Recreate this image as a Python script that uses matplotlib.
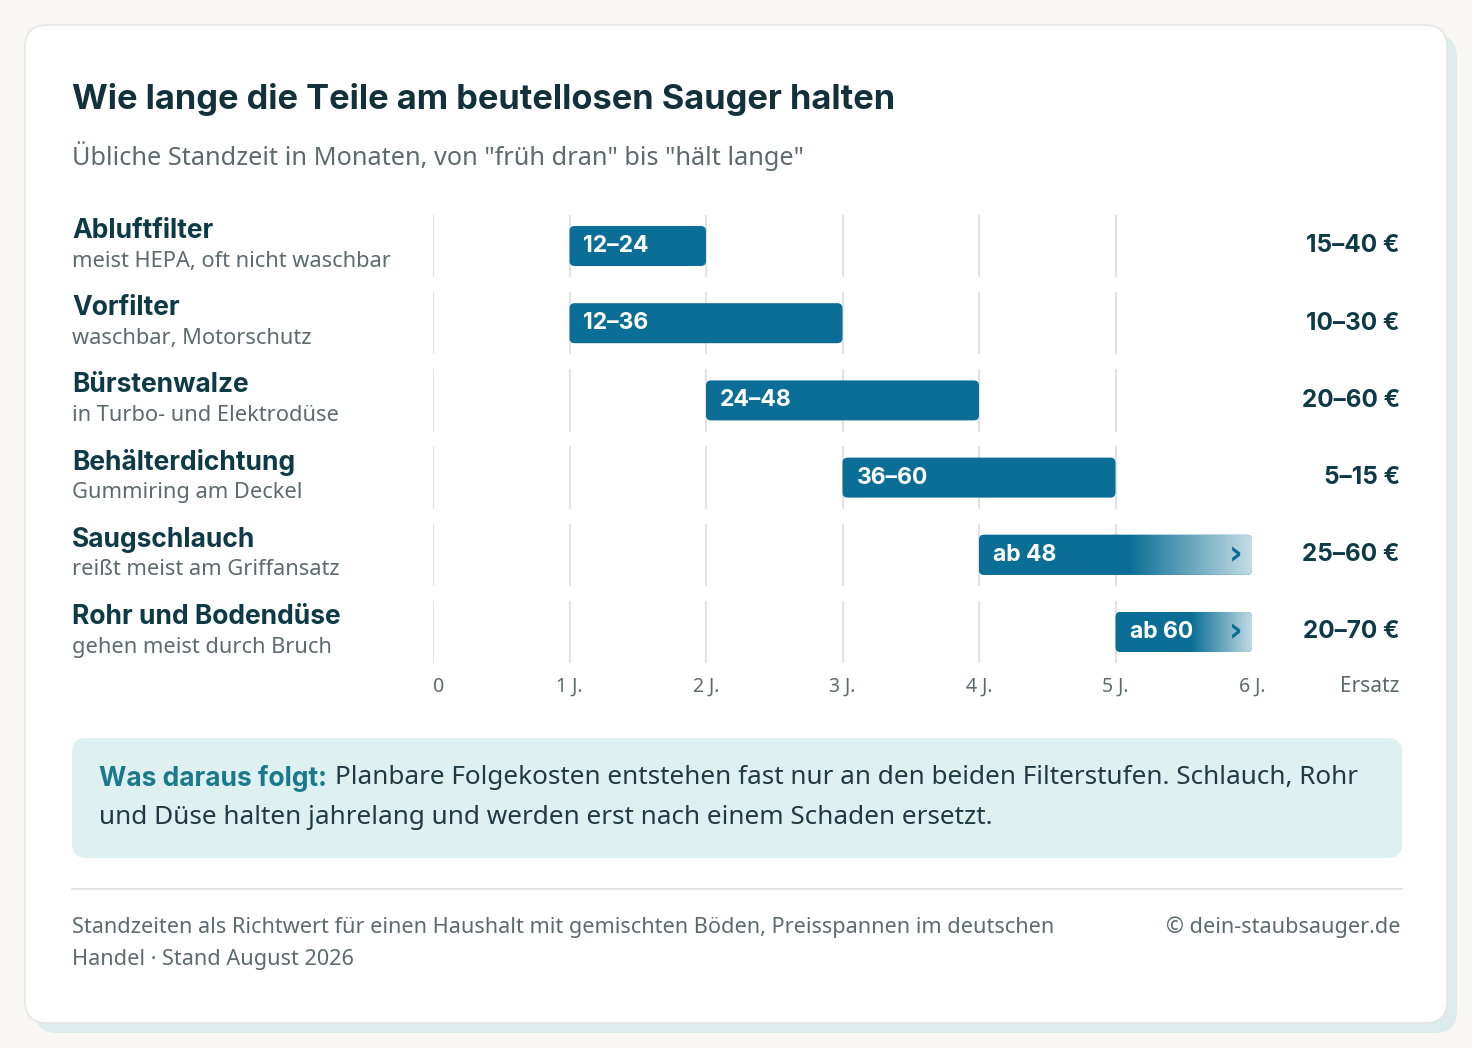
import matplotlib
matplotlib.use("Agg")
import matplotlib.pyplot as plt
import numpy as np
from matplotlib.patches import FancyBboxPatch
from matplotlib.colors import LinearSegmentedColormap

parts = ["Abluftfilter", "Vorfilter", "Bürstenwalze", "Behälterdichtung", "Saugschlauch", "Rohr und Bodendüse"]
notes = ["meist HEPA, oft nicht waschbar", "waschbar, Motorschutz", "in Turbo- und Elektrodüse",
         "Gummiring am Deckel", "reißt meist am Griffansatz", "gehen meist durch Bruch"]
start_m = [12, 12, 24, 36, 48, 60]
end_m = [24, 36, 48, 60, None, None]   # None = open-ended
bar_labels = ["12–24", "12–36", "24–48", "36–60", "ab 48", "ab 60"]
prices = ["15–40 €", "10–30 €", "20–60 €", "5–15 €", "25–60 €", "20–70 €"]
tick_m = [0, 12, 24, 36, 48, 60, 72]
tick_labels = ["0", "1 J.", "2 J.", "3 J.", "4 J.", "5 J.", "6 J."]
xmax = 72

W, H = 1472, 1048
BG = "#f8f7f3"; BAR = "#0b6e96"; DARK = "#12313b"; LABEL = "#0e3a48"; GREY = "#5d6a6e"
FONT_B = "Inter"; FONT = "Noto Sans"

fig = plt.figure(figsize=(W/100, H/100), dpi=100, facecolor=BG)
bg = fig.add_axes([0, 0, 1, 1]); bg.set_xlim(0, W); bg.set_ylim(H, 0); bg.axis("off")
bg.add_patch(FancyBboxPatch((35, 35), 1422, 998, boxstyle="round,pad=0,rounding_size=22",
                            fc="#dcecec", ec="none"))
bg.add_patch(FancyBboxPatch((25, 25), 1422, 998, boxstyle="round,pad=0,rounding_size=22",
                            fc="white", ec="#e6e6e2", lw=1.2))
bg.text(72, 100, "Wie lange die Teile am beutellosen Sauger halten", fontsize=24.8, fontweight="bold",
        family=FONT_B, color=DARK, va="center")
bg.text(72, 156, 'Übliche Standzeit in Monaten, von "früh dran" bis "hält lange"', fontsize=18.2,
        family=FONT, color=GREY, va="center")

y0, dy = 246, 77.2
for i in range(len(parts)):
    yc = y0 + i*dy
    bg.text(72, yc - 15, parts[i], fontsize=19, fontweight="bold", family=FONT_B, color=LABEL, va="center")
    bg.text(72, yc + 15, notes[i], fontsize=15.7, family=FONT, color=GREY, va="center")
    bg.text(1400, yc, prices[i], fontsize=17.5, fontweight="bold", family=FONT_B, color=LABEL,
            va="center", ha="right")
bg.text(1400, 686, "Ersatz", fontsize=15, family=FONT, color=GREY, va="center", ha="right")

# callout
bg.add_patch(FancyBboxPatch((72, 738), 1330, 120, boxstyle="round,pad=0,rounding_size=14",
                            fc="#dff0f0", ec="none"))
t1 = bg.text(99, 778, "Was daraus folgt:", fontsize=19, fontweight="bold", family=FONT_B,
             color="#1a7a8c", va="center")
fig.canvas.draw()
bb = t1.get_window_extent()
bg.text(99 + bb.width + 8, 778, "Planbare Folgekosten entstehen fast nur an den beiden Filterstufen. Schlauch, Rohr",
        fontsize=18.8, family=FONT, color="#1f3a42", va="center")
bg.text(99, 818, "und Düse halten jahrelang und werden erst nach einem Schaden ersetzt.",
        fontsize=18.8, family=FONT, color="#1f3a42", va="center")
bg.plot([72, 1402], [889, 889], color="#dddddd", lw=1.2)
bg.text(72, 927, "Standzeiten als Richtwert für einen Haushalt mit gemischten Böden, Preisspannen im deutschen",
        fontsize=15.6, family=FONT, color=GREY, va="center")
bg.text(72, 959, "Handel · Stand August 2026", fontsize=15.6, family=FONT, color=GREY, va="center")
bg.text(1400, 927, "© dein-staubsauger.de", fontsize=15.6, family=FONT, color=GREY, va="center", ha="right")

# chart axes
x_l, x_r = 433, 1252
top, bot = y0 - dy/2, y0 + 5.5*dy
ax = fig.add_axes([x_l/W, 1 - bot/H, (x_r - x_l)/W, (bot - top)/H])
ax.set_xlim(0, xmax); ax.set_ylim(len(parts) - 0.5, -0.5); ax.axis("off")
for i in range(len(parts)):
    for t in tick_m[:-1]:
        ax.plot([t, t], [i - 0.39, i + 0.39], color="#e2e2e2", lw=1.5, zorder=0)
px_x = xmax / (x_r - x_l); px_y = 1 / dy
asp = px_y / px_x
bh = 40 * px_y
cmap = LinearSegmentedColormap.from_list("fade", [(0, BAR), (0.55, BAR), (1, "#c4dde5")])
for i in range(len(parts)):
    s = start_m[i]; e = end_m[i] if end_m[i] is not None else xmax
    patch = FancyBboxPatch((s, i - bh/2), e - s, bh, boxstyle="round,pad=0,rounding_size=0.45",
                           mutation_aspect=asp, fc=BAR, ec="none", zorder=2)
    ax.add_patch(patch)
    if end_m[i] is None:
        grad = np.linspace(0, 1, 256)[None, :]
        im = ax.imshow(grad, cmap=cmap, extent=(s, e, i + bh/2, i - bh/2), aspect="auto", zorder=3)
        im.set_clip_path(patch)
        ax.text(e - 16*px_x, i, "›", fontsize=24, fontweight="bold", color=BAR, ha="center",
                va="center", zorder=4, family="DejaVu Sans")
    ax.text(s + 14*px_x, i, bar_labels[i], fontsize=16.5, fontweight="bold", family=FONT_B,
            color="white", va="center", zorder=4)
ax.set_xlim(0, xmax); ax.set_ylim(len(parts) - 0.5, -0.5)
for t, lab in zip(tick_m, tick_labels):
    bg.text(x_l + t/px_x + (0 if t else 6), 687, lab, fontsize=14, family=FONT, color=GREY, ha="center", va="center")

fig.savefig("out.png", dpi=100, facecolor=BG)
